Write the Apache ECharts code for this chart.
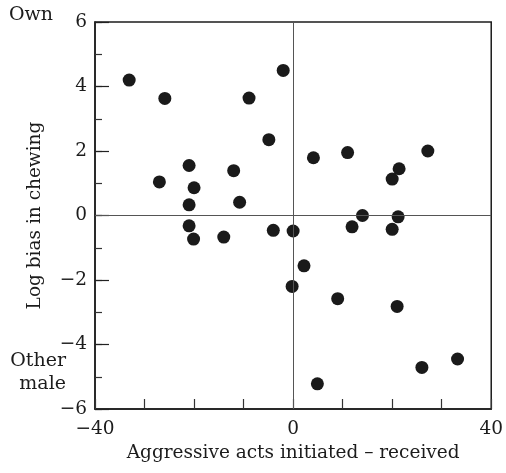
<!DOCTYPE html>
<html>
<head>
<meta charset="utf-8">
<script src="https://cdn.jsdelivr.net/npm/echarts@6/dist/echarts.min.js"></script>
<style>
  html, body { margin: 0; padding: 0; background: #fff; }
  #chart { width: 506px; height: 473px; }
</style>
</head>
<body>
<div id="chart"></div>
<script>
'use strict';

// aggressive acts initiated - received (x) vs log bias in chewing (y)
var actsDiff = [
    -33.1, -25.9, -2.0, -8.9, -4.9, -21.0, -12.0, -27.0, -20.0, -21.0, -10.8,
    -21.0, -20.1, -14.0, -4.0, 0.0, 4.1, 11.0, 27.2, 21.4, 20.0, 14.0,
    21.2, 11.9, 20.0, 2.2, -0.2, 9.0, 21.0, 33.2, 26.0, 4.9
];
var chewBias = [
    4.20, 3.63, 4.50, 3.64, 2.35, 1.55, 1.39, 1.04, 0.86, 0.33, 0.41,
    -0.32, -0.73, -0.67, -0.46, -0.48, 1.79, 1.95, 2.00, 1.45, 1.13, 0.00,
    -0.04, -0.35, -0.43, -1.56, -2.20, -2.58, -2.82, -4.45, -4.71, -5.22
];
var xLabels = [-40, 0, 40];

var FONT = 'DejaVu Serif';
var INK = '#1c1c1c';
var SIZE = 18.5;

function minus(v) {
    return String(v).replace('-', '\u2212');
}

var points = [];
for (var i = 0; i < actsDiff.length; i++) {
    points.push([actsDiff[i], chewBias[i]]);
}

var myChart = echarts.init(document.getElementById('chart'));

var option = {
    animation: false,
    grid: {
        left: 95, right: 11, top: 22, bottom: 64,
        show: true,
        borderColor: INK,
        borderWidth: 1.5
    },
    xAxis: {
        type: 'value',
        min: -40, max: 40, interval: 10,
        name: 'Aggressive acts initiated \u2013 received',
        nameLocation: 'middle',
        nameGap: 33,
        nameTextStyle: { fontFamily: FONT, fontSize: SIZE, color: INK },
        axisLine: { show: true, onZero: false, lineStyle: { color: INK, width: 1.5 } },
        axisTick: { show: true, inside: true, length: 10, lineStyle: { color: '#333', width: 1.2 } },
        splitLine: { show: false },
        axisLabel: {
            fontFamily: FONT, fontSize: SIZE, color: INK, margin: 11,
            formatter: function(v) {
                return xLabels.indexOf(v) >= 0 ? minus(v) : '';
            }
        }
    },
    yAxis: [{
        type: 'value',
        min: -6, max: 6, interval: 1,
        name: 'Log bias in chewing',
        nameLocation: 'middle',
        nameGap: 50,
        nameTextStyle: { fontFamily: FONT, fontSize: SIZE, color: INK },
        axisLine: { show: true, onZero: false, lineStyle: { color: INK, width: 1.5 } },
        axisTick: { show: true, inside: true, length: 7, lineStyle: { color: '#333', width: 1.2 } },
        splitLine: { show: false },
        axisLabel: {
            fontFamily: FONT, fontSize: SIZE, color: INK, margin: 8,
            formatter: function(v) { return v % 2 === 0 ? minus(v) : ''; }
        }
    }, {
        // longer ticks at the labelled values
        type: 'value',
        position: 'left',
        min: -6, max: 6, interval: 2,
        axisLine: { show: false, onZero: false },
        axisTick: { show: true, inside: true, length: 14, lineStyle: { color: '#222', width: 1.2 } },
        axisLabel: { show: false },
        splitLine: { show: false }
    }],
    series: [{
        type: 'scatter',
        data: points,
        symbolSize: 13,
        itemStyle: { color: '#1a1a1a', opacity: 1 },
        markLine: {
            silent: true,
            symbol: 'none',
            label: { show: false },
            lineStyle: { color: '#555', width: 1, type: 'solid' },
            data: [{ xAxis: 0 }, { yAxis: 0 }]
        }
    }],
    graphic: [{
        type: 'text',
        x: 9, y: 6,
        style: { text: 'Own', font: '19px "DejaVu Serif"', fill: INK }
    }, {
        type: 'text',
        x: 66, y: 352,
        style: { text: 'Other', font: '19px "DejaVu Serif"', fill: INK, align: 'right' }
    }, {
        type: 'text',
        x: 66, y: 375,
        style: { text: 'male', font: '19px "DejaVu Serif"', fill: INK, align: 'right' }
    }]
};

myChart.setOption(option);
</script>
</body>
</html>
